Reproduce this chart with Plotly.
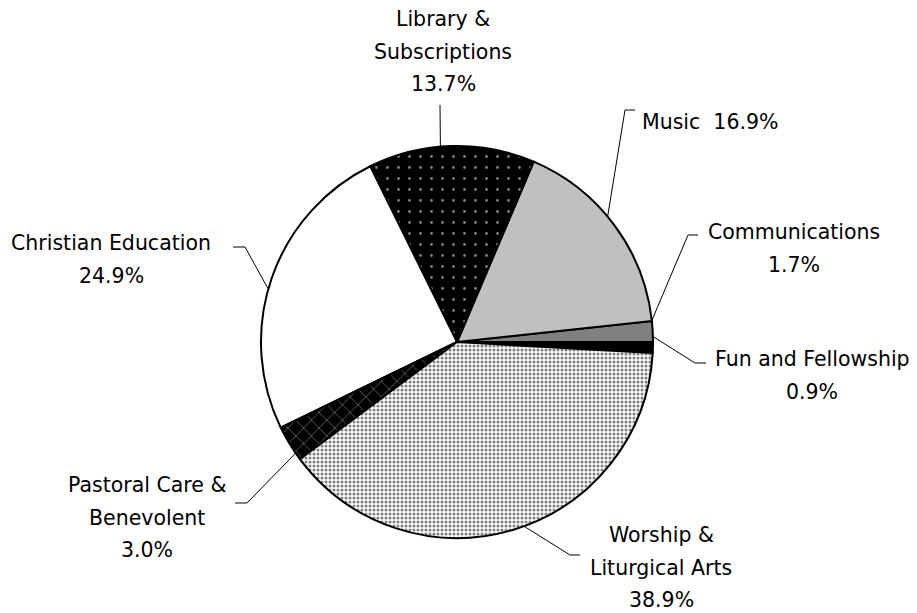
import math

import plotly.graph_objects as go

# the page body adds an 8px margin, so the figure is drawn that much smaller
PAGE_W, PAGE_H, OFF = 917, 613, 8
W, H = PAGE_W - OFF, PAGE_H - OFF

# slices, counter-clockwise from 3 o'clock
categories = [
    "Fun and Fellowship",
    "Communications",
    "Music",
    "Library & Subscriptions",
    "Christian Education",
    "Pastoral Care & Benevolent",
    "Worship & Liturgical Arts",
]
shares = [0.9, 1.7, 16.9, 13.7, 24.9, 3.0, 38.9]
label_lines = [
    ["Fun and Fellowship"],
    ["Communications"],
    None,  # Music goes on one line
    ["Library &", "Subscriptions"],
    ["Christian Education"],
    ["Pastoral Care &", "Benevolent"],
    ["Worship &", "Liturgical Arts"],
]

fill = ["black", "#808080", "#c0c0c0", "black", "white", "black", "white"]
pat_shape = ["", "", "", ".", "", "x", "."]
pat_fg = ["black", "black", "black", "white", "black", "white", "black"]
pat_size = [8, 8, 8, 11, 8, 11, 4]
pat_solid = [0.2, 0.2, 0.2, 0.05, 0.2, 0.12, 0.46]

# pie placement (page px)
cx, cy, r = 457, 342, 196

# label placement (page px): text centre of first line, leader elbow, leader end
text_pos = [(812, 359), (794, 232), (710, 122), (443, 19), (111, 243), (147, 485), (661, 535)]
elbows = [(695, 363), (688, 235), (625, 110), (440, 105), (245, 247), (247, 503), (570, 555)]
ends = [(706, 363), (698, 235), (635, 110), (440, 105), (233, 247), (235, 503), (580, 555)]
line_gap = 32.5


def px(x, y):
    return (x - OFF) / W, 1 - (y - OFF) / H


x0, y1 = px(cx - r, cy - r)
x1, y0 = px(cx + r, cy + r)

fig = go.Figure(
    go.Pie(
        labels=categories,
        values=shares,
        sort=False,
        direction="counterclockwise",
        rotation=90,
        textinfo="none",
        hoverinfo="label+percent",
        marker=dict(
            colors=fill,
            line=dict(color="black", width=2),
            pattern=dict(
                shape=pat_shape,
                fgcolor=pat_fg,
                bgcolor=fill,
                size=pat_size,
                solidity=pat_solid,
                fillmode="overlay",
            ),
        ),
        domain=dict(x=[x0, x1], y=[y0, y1]),
    )
)

total = sum(shares)
shapes, annotations = [], []
start = 0.0
for i, v in enumerate(shares):
    mid = (start + v / 2) / total * 2 * math.pi
    start += v
    ax, ay = cx + r * math.cos(mid), cy - r * math.sin(mid)
    pts = [px(ax, ay), px(*elbows[i]), px(*ends[i])]
    path = "M {} {} L {} {} L {} {}".format(*[c for p in pts for c in p])
    shapes.append(dict(type="path", xref="paper", yref="paper", path=path,
                       line=dict(color="black", width=1)))

    pct = f"{v:.1f}%"
    if label_lines[i] is None:
        lines = [f"{categories[i]}\u00a0 {pct}"]
    else:
        lines = label_lines[i] + [pct]
    tx, ty = text_pos[i]
    for k, t in enumerate(lines):
        x, y = px(tx, ty + k * line_gap)
        annotations.append(dict(x=x, y=y, xref="paper", yref="paper", text=t,
                                showarrow=False, xanchor="center", yanchor="middle",
                                font=dict(family="DejaVu Sans", size=20.5, color="black")))

fig.update_layout(
    width=W,
    height=H,
    margin=dict(l=0, r=0, t=0, b=0),
    showlegend=False,
    paper_bgcolor="white",
    plot_bgcolor="white",
    shapes=shapes,
    annotations=annotations,
)

fig.write_html("out.html")
